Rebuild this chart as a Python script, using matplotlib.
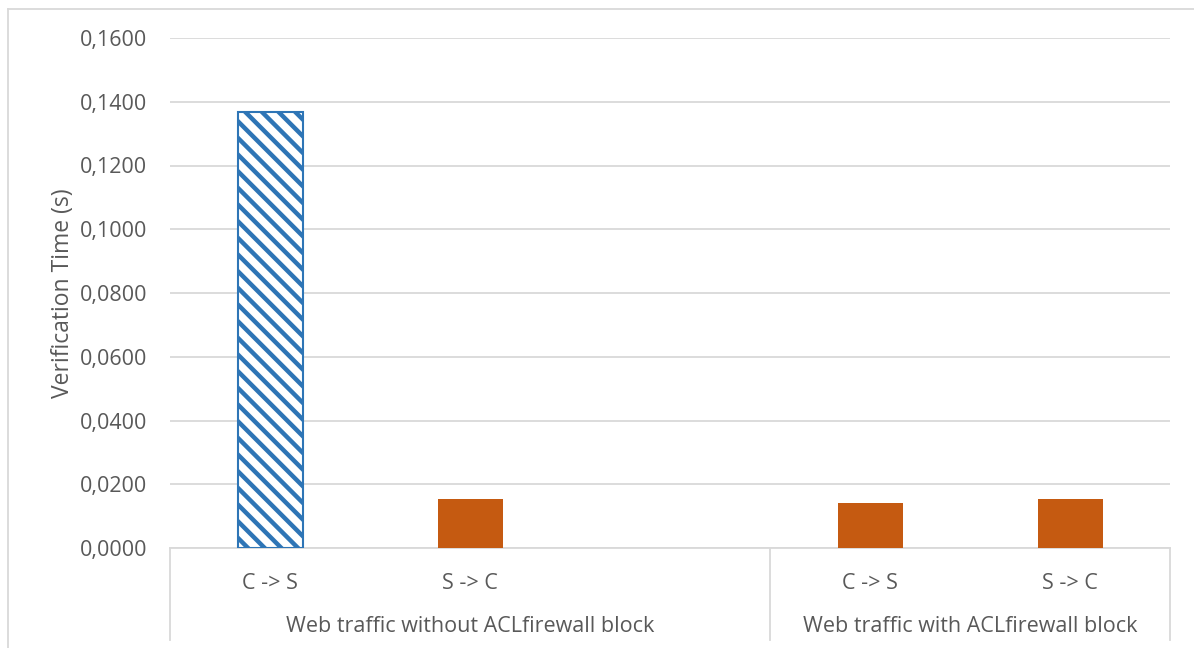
import numpy as np
import matplotlib
matplotlib.use("Agg")
import matplotlib.pyplot as plt
from matplotlib.lines import Line2D
from matplotlib.ticker import FuncFormatter
import matplotlib.transforms as mtransforms

# ---- data ----
categories = ["C -> S", "S -> C", "", "C -> S", "S -> C"]
groups = ["Web traffic without ACLfirewall block", "Web traffic with ACLfirewall block"]
group_spans = [(0, 2), (3, 4)]  # inclusive category index ranges
hatched_values = [0.1368, np.nan, np.nan, np.nan, np.nan]
solid_values = [np.nan, 0.0153, np.nan, 0.0140, 0.0153]
y_ticks = [0.0, 0.02, 0.04, 0.06, 0.08, 0.10, 0.12, 0.14, 0.16]
y_label = "Verification Time (s)"

plt.rcParams['font.family'] = ['Open Sans', 'DejaVu Sans']
plt.rcParams['hatch.linewidth'] = 3.2
plt.rcParams['hatch.color'] = '#2E75B6'

W, H = 1194, 648
fig = plt.figure(figsize=(W / 100, H / 100), dpi=100)
ax = fig.add_axes([170 / W, (H - 548) / H, 1000 / W, 510 / H])

text_color = '#595959'
grid_color = '#D9D9D9'
x = np.arange(len(categories))
bw = 0.325

ax.bar(x, hatched_values, width=bw, color='white', edgecolor='#2E75B6',
       hatch='\\\\', linewidth=1.5, zorder=3)
ax.bar(x, solid_values, width=bw, color='#C55A11', edgecolor='none', zorder=3)

ax.set_xlim(-0.5, len(categories) - 0.5)
ax.set_ylim(0, 0.16)
ax.set_yticks(y_ticks)
ax.yaxis.set_major_formatter(FuncFormatter(lambda v, p: f"{v:.4f}".replace('.', ',')))
ax.tick_params(axis='y', length=0, pad=16.5, labelsize=15.5, labelcolor=text_color)
ax.grid(axis='y', color=grid_color, linewidth=1.3, zorder=0)
ax.set_axisbelow(True)
for s in ['top', 'right', 'left']:
    ax.spines[s].set_visible(False)
ax.spines['bottom'].set_color(grid_color)
ax.spines['bottom'].set_linewidth(1.3)

ax.set_xticks(x)
ax.set_xticklabels(categories)
ax.tick_params(axis='x', length=0, pad=18, labelsize=15.5, labelcolor=text_color)

ax.set_ylabel(y_label, fontsize=16.5, color=text_color, labelpad=3)

trans = mtransforms.blended_transform_factory(ax.transData, ax.transAxes)
sep_bottom = -92 / 510
seps = sorted(set([g[0] - 0.5 for g in group_spans] + [g[1] + 0.5 for g in group_spans]))
for s in seps:
    ax.add_line(Line2D([s, s], [0, sep_bottom], transform=trans, color=grid_color,
                       linewidth=1.3, clip_on=False))
for name, (a, b) in zip(groups, group_spans):
    ax.text((a + b) / 2, -78 / 510, name, transform=trans, ha='center', va='center',
            fontsize=15.5, color=text_color)

# outer chart border
fig.add_artist(Line2D([8 / W, 8 / W], [0, 1 - 9 / H], transform=fig.transFigure,
                      color=grid_color, linewidth=1.3))
fig.add_artist(Line2D([8 / W, 1], [1 - 9 / H, 1 - 9 / H], transform=fig.transFigure,
                      color=grid_color, linewidth=1.3))

fig.savefig("out.png", dpi=100)
